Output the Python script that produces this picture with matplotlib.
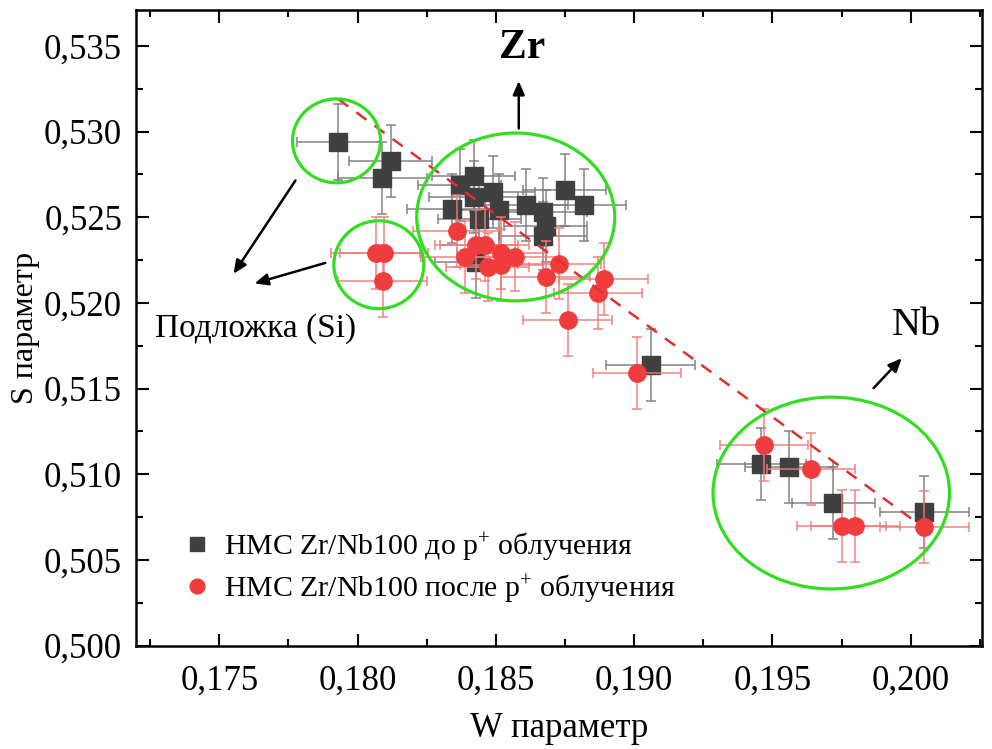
import matplotlib
matplotlib.use("Agg")
import matplotlib.pyplot as plt
from matplotlib.patches import Ellipse
from matplotlib.ticker import MultipleLocator

plt.rcParams['font.family'] = ['Liberation Serif', 'DejaVu Serif']
plt.rcParams['mathtext.fontset'] = 'custom'
plt.rcParams['mathtext.rm'] = 'Liberation Serif'
plt.rcParams['mathtext.it'] = 'Liberation Serif:italic'

# --- data: Doppler broadening S/W parameters ---
w_before = [0.1793, 0.1812, 0.1809, 0.1837, 0.1842, 0.1842, 0.1849, 0.1834,
            0.1844, 0.1851, 0.1861, 0.1867, 0.1875, 0.1882, 0.1868, 0.1867,
            0.1843, 0.1906, 0.1946, 0.1956, 0.1972, 0.2005]
s_before = [0.5294, 0.5283, 0.5273, 0.5269, 0.5274, 0.5262, 0.5265, 0.5255,
            0.5249, 0.5254, 0.5257, 0.5253, 0.5266, 0.5257, 0.5245, 0.5239,
            0.5224, 0.5164, 0.5106, 0.5104, 0.5083, 0.5078]
w_err_before = [0.0015, 0.0015, 0.0016, 0.0015, 0.0015, 0.0016, 0.0015, 0.0016,
                0.0015, 0.0016, 0.0015, 0.0016, 0.0015, 0.0015, 0.0015, 0.0016,
                0.0015, 0.0016, 0.0016, 0.0016, 0.0015, 0.0016]
s_err_before = [0.0022, 0.0021, 0.0021, 0.0021, 0.0021, 0.0021, 0.0021, 0.0020,
                0.0021, 0.0021, 0.0021, 0.0020, 0.0021, 0.0021, 0.0021, 0.0020,
                0.0021, 0.0021, 0.0021, 0.0021, 0.0021, 0.0021]

w_after = [0.18065, 0.18095, 0.18091, 0.1836, 0.1843, 0.1846, 0.1839, 0.1847,
           0.1852, 0.1852, 0.1857, 0.1868, 0.1873, 0.1889, 0.1887, 0.1876,
           0.1901, 0.1947, 0.1964, 0.1975, 0.1980, 0.2005]
s_after = [0.5229, 0.5229, 0.5213, 0.5242, 0.5234, 0.5234, 0.5227, 0.5221,
           0.5229, 0.5222, 0.5227, 0.5215, 0.5223, 0.5214, 0.5206, 0.5190,
           0.5159, 0.5117, 0.5103, 0.5070, 0.5070, 0.5069]
w_err_after = [0.0016, 0.0016, 0.0016, 0.0016, 0.0015, 0.0016, 0.0016, 0.0015,
               0.0016, 0.0015, 0.0016, 0.0016, 0.0015, 0.0016, 0.0016, 0.0016,
               0.0016, 0.0016, 0.0016, 0.0016, 0.0016, 0.0016]
s_err_after = [0.0021, 0.0021, 0.0021, 0.0021, 0.0020, 0.0021, 0.0021, 0.0020,
               0.0021, 0.0021, 0.0020, 0.0021, 0.0021, 0.0021, 0.0021, 0.0021,
               0.0021, 0.0021, 0.0021, 0.0021, 0.0021, 0.0021]

# trend line end points
trend_w = [0.1793, 0.2002]
trend_s = [0.5319, 0.5072]

x_ticks = [0.175, 0.180, 0.185, 0.190, 0.195, 0.200]
x_tick_labels = ['0,175', '0,180', '0,185', '0,190', '0,195', '0,200']
y_ticks = [0.500, 0.505, 0.510, 0.515, 0.520, 0.525, 0.530, 0.535]
y_tick_labels = ['0,500', '0,505', '0,510', '0,515', '0,520', '0,525', '0,530', '0,535']

label_before = 'НМС Zr/Nb100 до p$^{+}$ облучения'
label_after = 'НМС Zr/Nb100 после p$^{+}$ облучения'

fig = plt.figure(figsize=(9.92, 7.49), dpi=100)
ax = fig.add_axes([136 / 992, 1 - 645.5 / 749, 846 / 992, 635.5 / 749])

sq_color = '#404040'
ci_color = '#f03c3c'

ax.errorbar(w_before, s_before, xerr=w_err_before, yerr=s_err_before, fmt='none',
            ecolor='#7a7a7a', elinewidth=1.2, capsize=3.5, capthick=1.2, alpha=0.85, zorder=2)
ax.plot(w_before, s_before, 's', color=sq_color, markersize=12.5, zorder=3,
        label=label_before)

ax.errorbar(w_after, s_after, xerr=w_err_after, yerr=s_err_after, fmt='none',
            ecolor='#f07a7a', elinewidth=1.2, capsize=3.5, capthick=1.2, alpha=0.85, zorder=4)
ax.plot(w_after, s_after, 'o', color=ci_color, markersize=12.5, zorder=5,
        label=label_after)

ax.plot(trend_w, trend_s, '--', color='#e03030', linewidth=1.8, dashes=(5, 4), zorder=6)

# highlighted regions
green = '#33dd22'
for (cx, cy, ew, eh) in [(0.17924, 0.52946, 0.00318, 0.00490),
                         (0.18077, 0.52223, 0.00325, 0.00513),
                         (0.18572, 0.52502, 0.00716, 0.00980),
                         (0.19713, 0.50890, 0.00855, 0.01120)]:
    ax.add_patch(Ellipse((cx, cy), ew, eh, fill=False, edgecolor=green,
                         linewidth=2.3, zorder=7))

arrow_kw = dict(arrowstyle='-|>,head_length=0.8,head_width=0.35', color='black', lw=1.8)
ax.annotate('', xy=(0.18583, 0.53311), xytext=(0.18583, 0.53002), arrowprops=arrow_kw)
ax.annotate('', xy=(0.19975, 0.51689), xytext=(0.19859, 0.51491), arrowprops=arrow_kw)
ax.annotate('', xy=(0.17546, 0.52156), xytext=(0.17781, 0.52728), arrowprops=arrow_kw)
ax.annotate('', xy=(0.17618, 0.52109), xytext=(0.17893, 0.52238), arrowprops=arrow_kw)

ax.text(0.18594, 0.53490, 'Zr', fontsize=30, fontweight='bold', ha='center', va='center')
ax.text(0.20022, 0.51870, 'Nb', fontsize=29, ha='center', va='center')
ax.text(0.17268, 0.51852, 'Подложка (Si)', fontsize=24, ha='left', va='center')

ax.set_xlim(0.17199, 0.20258)
ax.set_ylim(0.500, 0.5371)
ax.set_xticks(x_ticks)
ax.set_xticklabels(x_tick_labels)
ax.set_yticks(y_ticks)
ax.set_yticklabels(y_tick_labels)
ax.xaxis.set_minor_locator(MultipleLocator(0.0025))
ax.yaxis.set_minor_locator(MultipleLocator(0.0025))
ax.tick_params(which='both', direction='in', top=True, right=True, width=1.5)
ax.tick_params(which='major', length=9)
ax.tick_params(which='minor', length=5)
ax.tick_params(axis='x', which='major', labelsize=25, pad=14)
ax.tick_params(axis='y', which='major', labelsize=25, pad=10)
for sp in ax.spines.values():
    sp.set_linewidth(1.8)

ax.set_xlabel('W параметр', fontsize=25, labelpad=10)
ax.set_ylabel('S параметр', fontsize=23, labelpad=3)

ax.legend(loc='upper left', bbox_to_anchor=(0.035, 0.205), frameon=False,
          fontsize=21.5, handletextpad=0.35, labelspacing=0.3, borderpad=0,
          handlelength=1.1, markerscale=0.85)

fig.savefig('out.png', dpi=100)
